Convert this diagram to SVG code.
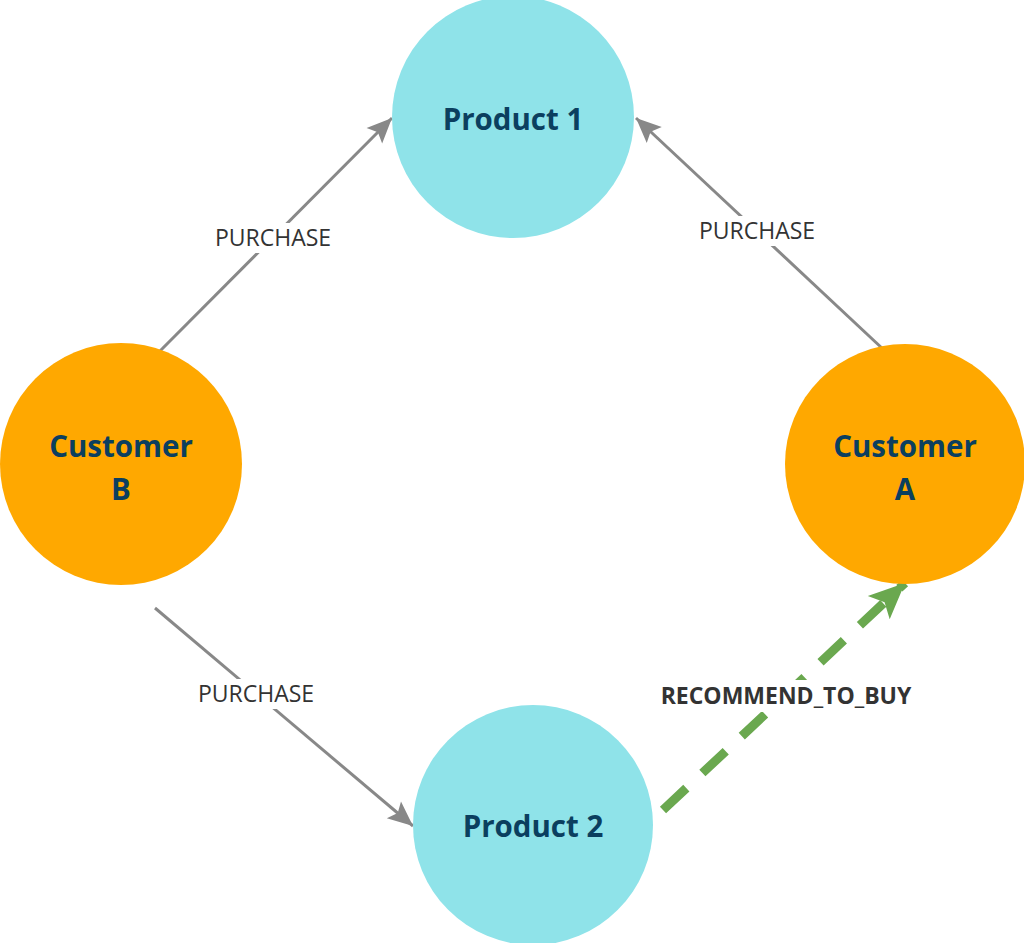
<svg xmlns="http://www.w3.org/2000/svg" width="1024" height="943" viewBox="0 0 1024 943">
<defs>
<style>
.product{fill:#8fe3e9}
.customer{fill:#ffa800}
.nt{font-family:"Open Sans","Noto Sans",sans-serif;font-weight:bold;font-size:29.5px;fill:#0b3f5f;text-anchor:middle}
.edge{stroke:#888888;stroke-width:3;fill:none}
.rec{stroke:#6aa84f;stroke-width:9;fill:none;stroke-dasharray:32 22}
.lbl{font-family:"Open Sans","Noto Sans",sans-serif;font-size:23px;fill:#333333;text-anchor:middle}
.lblb{font-family:"Open Sans","Noto Sans",sans-serif;font-size:23px;font-weight:bold;fill:#333333;text-anchor:middle}
</style>
<marker id="ag" markerUnits="userSpaceOnUse" viewBox="-26 -13 28 26" refX="0" refY="0" markerWidth="28" markerHeight="26" orient="auto">
<path d="M0,0 L-25,-11 L-20,0 L-25,11 Z" fill="#888888"/>
</marker>
<marker id="agr" markerUnits="userSpaceOnUse" viewBox="-38 -18 40 36" refX="0" refY="0" markerWidth="40" markerHeight="36" orient="auto">
<path d="M0,0 L-36,-16 L-28,0 L-36,16 Z" fill="#6aa84f"/>
</marker>
</defs>
<rect width="1024" height="943" fill="#ffffff"/>
<g id="connectors">
<line class="edge" x1="158" y1="353" x2="392" y2="118" marker-end="url(#ag)"/>
<line class="edge" x1="884" y1="350" x2="636" y2="118" marker-end="url(#ag)"/>
<line class="edge" x1="155" y1="608" x2="413" y2="826" marker-end="url(#ag)"/>
<line class="rec" x1="663" y1="810" x2="905" y2="583" marker-end="url(#agr)"/>
<rect x="205" y="223" width="136" height="30" fill="#ffffff"/>
<text class="lbl" x="273" y="246">PURCHASE</text>
<rect x="689" y="216" width="136" height="30" fill="#ffffff"/>
<text class="lbl" x="757" y="239">PURCHASE</text>
<rect x="188" y="679" width="136" height="30" fill="#ffffff"/>
<text class="lbl" x="256" y="702">PURCHASE</text>
<rect x="652" y="680" width="268" height="32" fill="#ffffff"/>
<text class="lblb" x="786" y="704">RECOMMEND_TO_BUY</text>
</g>
<g id="product1">
<circle class="product" cx="513" cy="117" r="121"/>
<text class="nt" x="513" y="130">Product 1</text>
</g>
<g id="customerB">
<circle class="customer" cx="121" cy="464" r="121"/>
<text class="nt" x="121" y="457">Customer</text>
<text class="nt" x="121" y="500">B</text>
</g>
<g id="customerA">
<circle class="customer" cx="905" cy="464" r="120"/>
<text class="nt" x="905" y="457">Customer</text>
<text class="nt" x="905" y="500">A</text>
</g>
<g id="product2">
<circle class="product" cx="533" cy="825" r="120"/>
<text class="nt" x="533" y="837">Product 2</text>
</g>
</svg>
